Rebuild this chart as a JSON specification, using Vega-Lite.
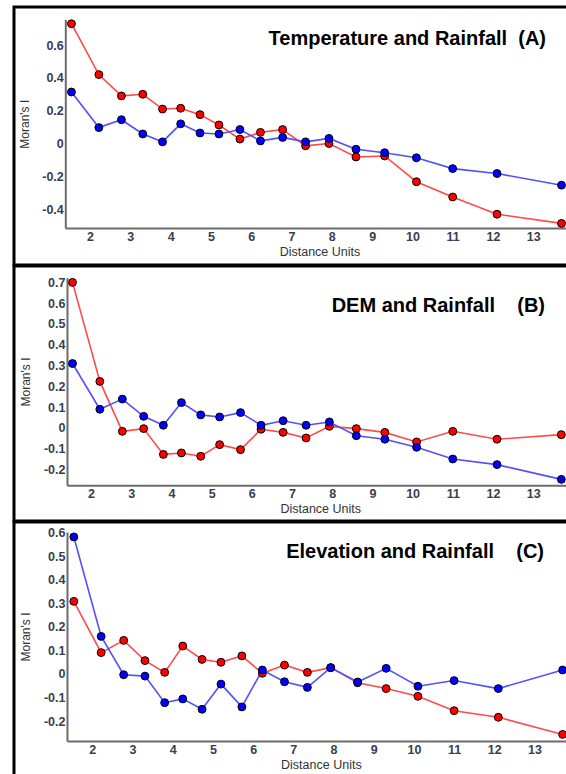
{
  "$schema": "https://vega.github.io/schema/vega-lite/v6.json",
  "padding": {"left": 12, "top": 5, "right": 0, "bottom": 0},
  "background": "white",
  "bounds": "flush",
  "spacing": 1,
  "config": {
    "font": "Liberation Sans",
    "view": {"stroke": "#000000", "strokeWidth": 3},
    "axis": {"grid": false, "ticks": false, "labelFont": "Liberation Sans", "labelFontSize": 12.5, "labelFontWeight": "bold", "labelColor": "#36404f", "labelFlush": false, "domainColor": "#6b6b6b", "domainWidth": 2, "titleFont": "Liberation Sans", "titleFontWeight": "normal", "titleColor": "#333333", "titleFontSize": 12.5},
    "title": {"font": "Liberation Sans", "fontSize": 20, "fontWeight": "bold", "color": "#000000", "anchor": "end", "frame": "group", "baseline": "alphabetic"}
  },
  "resolve": {"scale": {"x": "independent", "y": "independent", "color": "independent", "fill": "independent"}},
  "datasets": {
    "A": [
      {"lag": 1.54, "moran": 0.73, "series": "Temperature"},
      {"lag": 2.22, "moran": 0.42, "series": "Temperature"},
      {"lag": 2.78, "moran": 0.29, "series": "Temperature"},
      {"lag": 3.31, "moran": 0.30, "series": "Temperature"},
      {"lag": 3.8, "moran": 0.21, "series": "Temperature"},
      {"lag": 4.25, "moran": 0.215, "series": "Temperature"},
      {"lag": 4.73, "moran": 0.176, "series": "Temperature"},
      {"lag": 5.2, "moran": 0.113, "series": "Temperature"},
      {"lag": 5.72, "moran": 0.027, "series": "Temperature"},
      {"lag": 6.23, "moran": 0.068, "series": "Temperature"},
      {"lag": 6.78, "moran": 0.085, "series": "Temperature"},
      {"lag": 7.35, "moran": -0.014, "series": "Temperature"},
      {"lag": 7.93, "moran": 0.0, "series": "Temperature"},
      {"lag": 8.6, "moran": -0.082, "series": "Temperature"},
      {"lag": 9.31, "moran": -0.076, "series": "Temperature"},
      {"lag": 10.1, "moran": -0.233, "series": "Temperature"},
      {"lag": 11.0, "moran": -0.326, "series": "Temperature"},
      {"lag": 12.1, "moran": -0.431, "series": "Temperature"},
      {"lag": 13.7, "moran": -0.487, "series": "Temperature"},
      {"lag": 1.54, "moran": 0.314, "series": "Rainfall"},
      {"lag": 2.22, "moran": 0.097, "series": "Rainfall"},
      {"lag": 2.78, "moran": 0.145, "series": "Rainfall"},
      {"lag": 3.31, "moran": 0.058, "series": "Rainfall"},
      {"lag": 3.8, "moran": 0.01, "series": "Rainfall"},
      {"lag": 4.25, "moran": 0.12, "series": "Rainfall"},
      {"lag": 4.73, "moran": 0.064, "series": "Rainfall"},
      {"lag": 5.2, "moran": 0.058, "series": "Rainfall"},
      {"lag": 5.72, "moran": 0.085, "series": "Rainfall"},
      {"lag": 6.23, "moran": 0.016, "series": "Rainfall"},
      {"lag": 6.78, "moran": 0.037, "series": "Rainfall"},
      {"lag": 7.35, "moran": 0.01, "series": "Rainfall"},
      {"lag": 7.93, "moran": 0.031, "series": "Rainfall"},
      {"lag": 8.6, "moran": -0.035, "series": "Rainfall"},
      {"lag": 9.31, "moran": -0.056, "series": "Rainfall"},
      {"lag": 10.1, "moran": -0.087, "series": "Rainfall"},
      {"lag": 11.0, "moran": -0.153, "series": "Rainfall"},
      {"lag": 12.1, "moran": -0.183, "series": "Rainfall"},
      {"lag": 13.7, "moran": -0.254, "series": "Rainfall"}
    ],
    "B": [
      {"lag": 1.54, "moran": 0.70, "series": "DEM"},
      {"lag": 2.22, "moran": 0.224, "series": "DEM"},
      {"lag": 2.78, "moran": -0.016, "series": "DEM"},
      {"lag": 3.31, "moran": -0.003, "series": "DEM"},
      {"lag": 3.8, "moran": -0.127, "series": "DEM"},
      {"lag": 4.25, "moran": -0.12, "series": "DEM"},
      {"lag": 4.73, "moran": -0.136, "series": "DEM"},
      {"lag": 5.2, "moran": -0.08, "series": "DEM"},
      {"lag": 5.72, "moran": -0.104, "series": "DEM"},
      {"lag": 6.23, "moran": -0.006, "series": "DEM"},
      {"lag": 6.78, "moran": -0.021, "series": "DEM"},
      {"lag": 7.35, "moran": -0.048, "series": "DEM"},
      {"lag": 7.93, "moran": 0.008, "series": "DEM"},
      {"lag": 8.6, "moran": -0.003, "series": "DEM"},
      {"lag": 9.31, "moran": -0.021, "series": "DEM"},
      {"lag": 10.1, "moran": -0.067, "series": "DEM"},
      {"lag": 11.0, "moran": -0.016, "series": "DEM"},
      {"lag": 12.1, "moran": -0.054, "series": "DEM"},
      {"lag": 13.7, "moran": -0.032, "series": "DEM"},
      {"lag": 1.54, "moran": 0.31, "series": "Rainfall"},
      {"lag": 2.22, "moran": 0.09, "series": "Rainfall"},
      {"lag": 2.78, "moran": 0.139, "series": "Rainfall"},
      {"lag": 3.31, "moran": 0.056, "series": "Rainfall"},
      {"lag": 3.8, "moran": 0.013, "series": "Rainfall"},
      {"lag": 4.25, "moran": 0.122, "series": "Rainfall"},
      {"lag": 4.73, "moran": 0.063, "series": "Rainfall"},
      {"lag": 5.2, "moran": 0.053, "series": "Rainfall"},
      {"lag": 5.72, "moran": 0.074, "series": "Rainfall"},
      {"lag": 6.23, "moran": 0.013, "series": "Rainfall"},
      {"lag": 6.78, "moran": 0.035, "series": "Rainfall"},
      {"lag": 7.35, "moran": 0.013, "series": "Rainfall"},
      {"lag": 7.93, "moran": 0.029, "series": "Rainfall"},
      {"lag": 8.6, "moran": -0.037, "series": "Rainfall"},
      {"lag": 9.31, "moran": -0.054, "series": "Rainfall"},
      {"lag": 10.1, "moran": -0.093, "series": "Rainfall"},
      {"lag": 11.0, "moran": -0.149, "series": "Rainfall"},
      {"lag": 12.1, "moran": -0.176, "series": "Rainfall"},
      {"lag": 13.7, "moran": -0.247, "series": "Rainfall"}
    ],
    "C": [
      {"lag": 1.54, "moran": 0.309, "series": "Rainfall"},
      {"lag": 2.22, "moran": 0.091, "series": "Rainfall"},
      {"lag": 2.78, "moran": 0.143, "series": "Rainfall"},
      {"lag": 3.31, "moran": 0.057, "series": "Rainfall"},
      {"lag": 3.8, "moran": 0.007, "series": "Rainfall"},
      {"lag": 4.25, "moran": 0.119, "series": "Rainfall"},
      {"lag": 4.73, "moran": 0.062, "series": "Rainfall"},
      {"lag": 5.2, "moran": 0.05, "series": "Rainfall"},
      {"lag": 5.72, "moran": 0.077, "series": "Rainfall"},
      {"lag": 6.23, "moran": 0.003, "series": "Rainfall"},
      {"lag": 6.78, "moran": 0.038, "series": "Rainfall"},
      {"lag": 7.35, "moran": 0.007, "series": "Rainfall"},
      {"lag": 7.93, "moran": 0.027, "series": "Rainfall"},
      {"lag": 8.6, "moran": -0.037, "series": "Rainfall"},
      {"lag": 9.31, "moran": -0.062, "series": "Rainfall"},
      {"lag": 10.1, "moran": -0.095, "series": "Rainfall"},
      {"lag": 11.0, "moran": -0.156, "series": "Rainfall"},
      {"lag": 12.1, "moran": -0.184, "series": "Rainfall"},
      {"lag": 13.7, "moran": -0.257, "series": "Rainfall"},
      {"lag": 1.54, "moran": 0.583, "series": "Elevation"},
      {"lag": 2.22, "moran": 0.16, "series": "Elevation"},
      {"lag": 2.78, "moran": -0.003, "series": "Elevation"},
      {"lag": 3.31, "moran": -0.009, "series": "Elevation"},
      {"lag": 3.8, "moran": -0.122, "series": "Elevation"},
      {"lag": 4.25, "moran": -0.106, "series": "Elevation"},
      {"lag": 4.73, "moran": -0.15, "series": "Elevation"},
      {"lag": 5.2, "moran": -0.043, "series": "Elevation"},
      {"lag": 5.72, "moran": -0.14, "series": "Elevation"},
      {"lag": 6.23, "moran": 0.017, "series": "Elevation"},
      {"lag": 6.78, "moran": -0.033, "series": "Elevation"},
      {"lag": 7.35, "moran": -0.057, "series": "Elevation"},
      {"lag": 7.93, "moran": 0.027, "series": "Elevation"},
      {"lag": 8.6, "moran": -0.034, "series": "Elevation"},
      {"lag": 9.31, "moran": 0.024, "series": "Elevation"},
      {"lag": 10.1, "moran": -0.052, "series": "Elevation"},
      {"lag": 11.0, "moran": -0.028, "series": "Elevation"},
      {"lag": 12.1, "moran": -0.062, "series": "Elevation"},
      {"lag": 13.7, "moran": 0.017, "series": "Elevation"}
    ]
  },
  "vconcat": [
    {
      "width": 570,
      "height": 258,
      "title": {"text": "Temperature and Rainfall\u00a0\u00a0(A)", "offset": -42, "dx": -38},
      "data": {"name": "A"},
      "encoding": {
        "x": {"field": "lag", "type": "quantitative", "scale": {"domain": [1.387, 14], "range": [51.3, 559.6], "nice": false, "zero": false}, "axis": {"values": [2, 3, 4, 5, 6, 7, 8, 9, 10, 11, 12, 13], "offset": -37, "labelPadding": 2, "title": "Distance Units", "titlePadding": 3}},
        "y": {"field": "moran", "type": "quantitative", "scale": {"domain": [-0.515, 0.757], "range": [221, 12.3], "nice": false, "zero": false}, "axis": {"values": [-0.4, -0.2, 0, 0.2, 0.4, 0.6], "labelExpr": "'' + datum.value", "offset": -51.3, "labelPadding": 2, "title": "Moran's I", "titleFontSize": 12, "titleX": -40.5, "titleY": 116.7, "titleBaseline": "middle", "titleAngle": 270}}
      },
      "layer": [
        {"data": {"values": [{}]}, "mark": {"type": "rule", "color": "#222222", "strokeWidth": 1.4, "strokeDash": [4, 3]}, "encoding": {"y": {"datum": 0, "type": "quantitative"}, "x": {"datum": 1.387, "type": "quantitative"}, "x2": {"datum": 14}}},
        {"data": {"values": [{}]}, "mark": {"type": "rule", "color": "#6b6b6b", "strokeWidth": 1.5}, "encoding": {"y": {"datum": 0.757, "type": "quantitative"}, "x": {"datum": 1.387, "type": "quantitative"}, "x2": {"datum": 14}}},
        {"mark": {"type": "line", "strokeWidth": 1.6}, "encoding": {"color": {"field": "series", "type": "nominal", "scale": {"domain": ["Temperature", "Rainfall"], "range": ["#ff4a4a", "#5050ff"]}, "legend": null}}},
        {"mark": {"type": "point", "filled": true, "size": 62, "stroke": "#000000", "strokeWidth": 1, "opacity": 1}, "encoding": {"fill": {"field": "series", "type": "nominal", "scale": {"domain": ["Temperature", "Rainfall"], "range": ["#ff0000", "#0000ff"]}, "legend": null}}}
      ]
    },
    {
      "width": 570,
      "height": 255,
      "title": {"text": "DEM and Rainfall\u00a0\u00a0\u00a0\u00a0(B)", "offset": -50, "dx": -39},
      "data": {"name": "B"},
      "encoding": {
        "x": {"field": "lag", "type": "quantitative", "scale": {"domain": [1.403, 14], "range": [53, 559.4], "nice": false, "zero": false}, "axis": {"values": [2, 3, 4, 5, 6, 7, 8, 9, 10, 11, 12, 13], "offset": -35.7, "labelPadding": 2, "title": "Distance Units", "titlePadding": 3}},
        "y": {"field": "moran", "type": "quantitative", "scale": {"domain": [-0.2755, 0.7226], "range": [219.3, 11.7], "nice": false, "zero": false}, "axis": {"values": [-0.2, -0.1, 0, 0.1, 0.2, 0.3, 0.4, 0.5, 0.6, 0.7], "labelExpr": "'' + datum.value", "offset": -53, "labelPadding": 2, "title": "Moran's I", "titleFontSize": 12, "titleX": -42, "titleY": 115.5, "titleBaseline": "middle", "titleAngle": 270}}
      },
      "layer": [
        {"data": {"values": [{}]}, "mark": {"type": "rule", "color": "#222222", "strokeWidth": 1.4, "strokeDash": [4, 3]}, "encoding": {"y": {"datum": 0, "type": "quantitative"}, "x": {"datum": 1.403, "type": "quantitative"}, "x2": {"datum": 14}}},
        {"data": {"values": [{}]}, "mark": {"type": "rule", "color": "#6b6b6b", "strokeWidth": 1.5}, "encoding": {"y": {"datum": 0.7226, "type": "quantitative"}, "x": {"datum": 1.403, "type": "quantitative"}, "x2": {"datum": 14}}},
        {"mark": {"type": "line", "strokeWidth": 1.6}, "encoding": {"color": {"field": "series", "type": "nominal", "scale": {"domain": ["DEM", "Rainfall"], "range": ["#ff4a4a", "#5050ff"]}, "legend": null}}},
        {"mark": {"type": "point", "filled": true, "size": 62, "stroke": "#000000", "strokeWidth": 1, "opacity": 1}, "encoding": {"fill": {"field": "series", "type": "nominal", "scale": {"domain": ["DEM", "Rainfall"], "range": ["#ff0000", "#0000ff"]}, "legend": null}}}
      ]
    },
    {
      "width": 570,
      "height": 260,
      "title": {"text": "Elevation and Rainfall\u00a0\u00a0\u00a0\u00a0(C)", "offset": -40, "dx": -40},
      "data": {"name": "C"},
      "encoding": {
        "x": {"field": "lag", "type": "quantitative", "scale": {"domain": [1.37, 14], "range": [53, 560.7], "nice": false, "zero": false}, "axis": {"values": [2, 3, 4, 5, 6, 7, 8, 9, 10, 11, 12, 13], "offset": -41, "labelPadding": 2, "title": "Distance Units", "titlePadding": 3}},
        "y": {"field": "moran", "type": "quantitative", "scale": {"domain": [-0.285, 0.604], "range": [219, 10], "nice": false, "zero": false}, "axis": {"values": [-0.2, -0.1, 0, 0.1, 0.2, 0.3, 0.4, 0.5, 0.6], "labelExpr": "'' + datum.value", "offset": -53, "labelPadding": 2, "title": "Moran's I", "titleFontSize": 12, "titleX": -42, "titleY": 114.5, "titleBaseline": "middle", "titleAngle": 270}}
      },
      "layer": [
        {"data": {"values": [{}]}, "mark": {"type": "rule", "color": "#222222", "strokeWidth": 1.4, "strokeDash": [4, 3]}, "encoding": {"y": {"datum": 0, "type": "quantitative"}, "x": {"datum": 1.37, "type": "quantitative"}, "x2": {"datum": 14}}},
        {"data": {"values": [{}]}, "mark": {"type": "rule", "color": "#6b6b6b", "strokeWidth": 1.5}, "encoding": {"y": {"datum": 0.604, "type": "quantitative"}, "x": {"datum": 1.37, "type": "quantitative"}, "x2": {"datum": 14}}},
        {"mark": {"type": "line", "strokeWidth": 1.6}, "encoding": {"color": {"field": "series", "type": "nominal", "scale": {"domain": ["Rainfall", "Elevation"], "range": ["#ff4a4a", "#5050ff"]}, "legend": null}}},
        {"mark": {"type": "point", "filled": true, "size": 62, "stroke": "#000000", "strokeWidth": 1, "opacity": 1}, "encoding": {"fill": {"field": "series", "type": "nominal", "scale": {"domain": ["Rainfall", "Elevation"], "range": ["#ff0000", "#0000ff"]}, "legend": null}}}
      ]
    }
  ]
}
